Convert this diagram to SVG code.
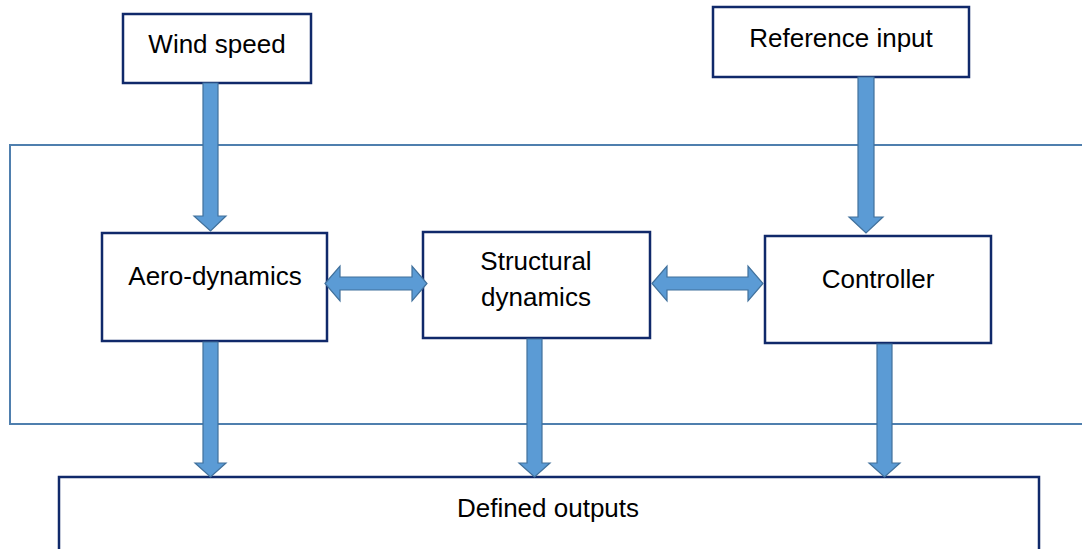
<svg xmlns="http://www.w3.org/2000/svg" width="1082" height="549" viewBox="0 0 1082 549">
<style>
.box{fill:#fff;stroke:#10296a;stroke-width:2.5}
.frame{fill:none;stroke:#4f7fae;stroke-width:2}
.arr{fill:#5b9bd5;stroke:#41719c;stroke-width:1.2;stroke-linejoin:miter}
text{font-family:"Liberation Sans",Arial,sans-serif;font-size:26px;fill:#000;text-anchor:middle}
</style>
<rect width="1082" height="549" fill="#fff"/>
<g id="frame"><path class="frame" d="M1083,145 H10 V424 H1083"/></g>
<g id="wind-speed"><rect class="box" x="123" y="14" width="188" height="69"/><text x="217" y="53">Wind speed</text></g>
<g id="reference-input"><rect class="box" x="713" y="7" width="256" height="70"/><text x="841" y="47">Reference input</text></g>
<g id="aero-dynamics"><rect class="box" x="102" y="233" width="225" height="108"/><text x="215" y="285">Aero-dynamics</text></g>
<g id="structural-dynamics"><rect class="box" x="423" y="232" width="227" height="106"/><text x="536" y="270">Structural</text><text x="536" y="306">dynamics</text></g>
<g id="controller"><rect class="box" x="765" y="236" width="226" height="107"/><text x="878" y="288">Controller</text></g>
<g id="defined-outputs"><rect class="box" x="59" y="477" width="980" height="80"/><text x="548" y="517">Defined outputs</text></g>
<g id="connectors">
<path class="arr" d="M203,83 H218 V216 H226 L210.5,231 L194,216 H203 Z"/>
<path class="arr" d="M858,77 H874 V217 H883 L866,233 L849,217 H858 Z"/>
<path class="arr" d="M203,342 H218 V463 H226 L210.5,477 L195,463 H203 Z"/>
<path class="arr" d="M527,339 H542 V463 H550 L534.5,477 L519,463 H527 Z"/>
<path class="arr" d="M877,344 H892 V463 H900 L884.5,477 L869,463 H877 Z"/>
<path class="arr" d="M325,283.5 L340,266 V277 H412 V266 L427,283.5 L412,301 V290 H340 V301 Z"/>
<path class="arr" d="M652,283.5 L667,266 V277 H748 V266 L763,283.5 L748,301 V290 H667 V301 Z"/>
</g>
</svg>
